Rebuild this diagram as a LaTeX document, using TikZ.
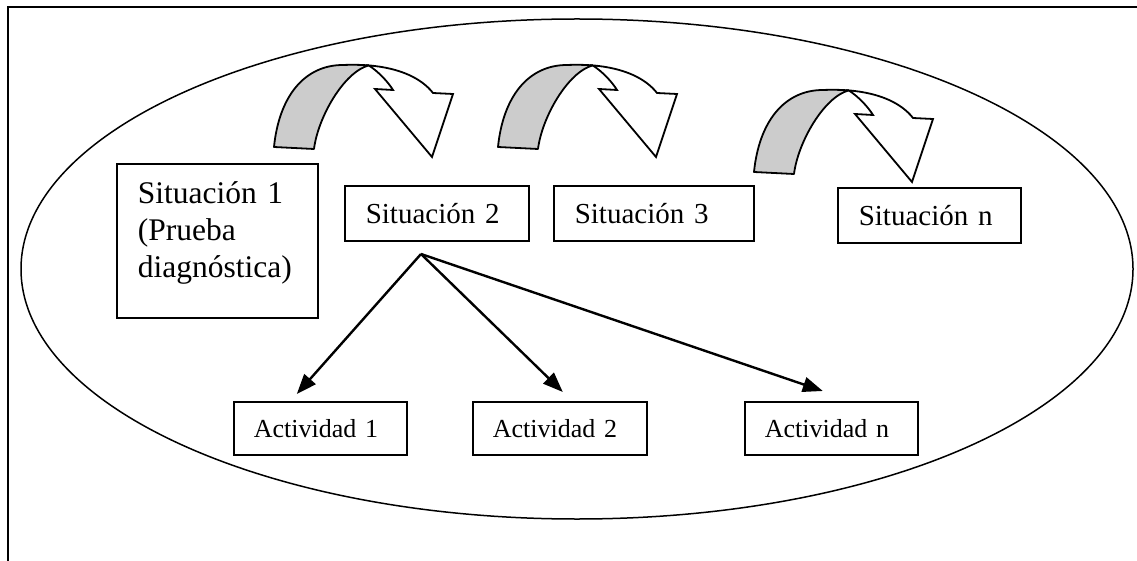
\documentclass[tikz,border=0pt]{standalone}
\usepackage{fontspec}
\setmainfont{Liberation Serif}
\usepackage{tikz}
\usetikzlibrary{arrows.meta}
\tikzset{
	frame/.style = {
		line width=2.2pt,
		black
	},
	oval/.style = {
		line width=1.5pt,
		black
	},
	firstbox/.style = {
		draw,
		line width=1.6pt,
		anchor=north west,
		align=left,
		inner xsep=21pt,
		inner ysep=0pt,
		text width=159pt,
		text height=40pt,
		text depth=114pt,
		font=\fontsize{31.5}{37}\selectfont
	},
	sitbox/.style = {
		draw,
		line width=1.6pt,
		anchor=north west,
		align=left,
		inner xsep=21pt,
		minimum height=55pt,
		font=\fontsize{29}{34}\selectfont
	},
	actbox/.style = {
		draw,
		line width=1.6pt,
		anchor=north west,
		align=left,
		inner xsep=20pt,
		minimum height=53pt,
		font=\fontsize{26}{31}\selectfont
	},
	link/.style = {
		line width=2.4pt,
		-{Triangle[length=20pt,width=15pt]}
	},
	turn/.pic = {
		\filldraw[fill=gray!40, draw=black, line width=1.8pt, line join=round]
			(0,0) .. controls (5,-50) and (30,-82) .. (69,-82)
			.. controls (78.2,-82.4) and (86.8,-82.2) .. (94.7,-81.6)
			.. controls (70,-75) and (44,-30) .. (40,2) -- cycle;
		\filldraw[fill=white, draw=black, line width=1.8pt, line join=miter]
			(94.7,-81.6) .. controls (126.4,-79) and (147.8,-68.4) .. (159,-54)
			-- (179,-53) -- (158,10) -- (101,-58) -- (119,-57)
			.. controls (114,-65) and (105,-75) .. (94.7,-81.6) -- cycle;
	}
}

\begin{document}
\begin{tikzpicture}[x=1pt, y=-1pt]
\useasboundingbox (0,0) rectangle (1137,561);
\draw[frame] (8,561) -- (8,7) -- (1137,7);
\draw[oval] (577,269) ellipse [x radius=556pt, y radius=250pt];

\pic (t1) at (274,147) {turn};
\pic (t2) at (498,147) {turn};
\pic (t3) at (754,172) {turn};

\node[firstbox] (s1) at (116,163) {Situación 1\\(Prueba\\diagnóstica)};
\node[sitbox, text width=142pt] (s2) at (344,185) {Situación 2};
\node[sitbox, text width=158pt] (s3) at (553,185) {Situación 3};
\node[sitbox, text width=141pt] (sn) at (837,187) {Situación n};

\node[actbox, text width=133pt] (a1) at (233,401) {Actividad 1};
\node[actbox, text width=134pt] (a2) at (472,401) {Actividad 2};
\node[actbox, text width=133pt] (an) at (744,401) {Actividad n};

\coordinate (fork) at (421,254);
\draw[link] (fork) -- ([xshift=-23.5pt,yshift=7pt]a1.north);
\draw[link] (fork) -- ([xshift=3pt,yshift=9pt]a2.north);
\draw[link] (fork) -- ([xshift=-8.5pt,yshift=10pt]an.north);
\end{tikzpicture}
\end{document}
